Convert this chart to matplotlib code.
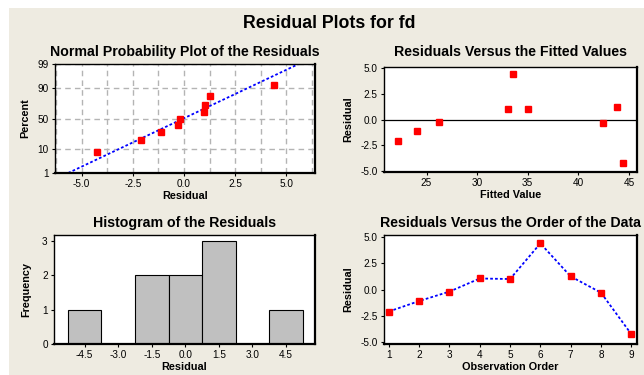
"""
Minitab-style four-in-one residual plots for fd.
"""

import matplotlib
matplotlib.use('Agg')
import matplotlib.pyplot as plt
from matplotlib.patches import Rectangle
from matplotlib.ticker import MultipleLocator, FixedLocator, FuncFormatter
import numpy as np
from statistics import NormalDist

plt.rcParams.update({
    'font.family': ['Liberation Sans', 'DejaVu Sans'],
    'font.size': 7.8,
    'xtick.labelsize': 7.2,
    'ytick.labelsize': 7.2,
    'xtick.major.size': 2.5,
    'ytick.major.size': 2.5,
    'axes.linewidth': 1.0,
})

# Data
observation = [1, 2, 3, 4, 5, 6, 7, 8, 9]
residuals = [-2.1, -1.1, -0.2, 1.05, 1.0, 4.4, 1.25, -0.3, -4.25]
fitted = [22.15, 24.1, 26.2, 33.1, 35.0, 33.5, 43.8, 42.4, 44.4]
normal_percent = [7.5, 18.4, 28.5, 39.5, 49.5, 61.0, 72.0, 83.0, 92.5]
percent_ticks = [1, 10, 50, 90, 99]
hist_bins = [-5.25, -3.75, -2.25, -0.75, 0.75, 2.25, 3.75, 5.25]
hist_ticks = [-4.5, -3.0, -1.5, 0.0, 1.5, 3.0, 4.5]

RED = '#ff0000'
BLUE = '#0000ff'
BEIGE = '#eeebe1'
GRID = '#b4b4b4'
TITLE_SIZE = 10.2

nd = NormalDist()


def to_z(p):
    p = np.clip(np.asarray(p, dtype=float), 1e-6, 100 - 1e-6)
    return np.vectorize(lambda v: nd.inv_cdf(v / 100.0), otypes=[float])(p)


def to_pct(z):
    z = np.asarray(z, dtype=float)
    return np.vectorize(lambda v: nd.cdf(v) * 100.0, otypes=[float])(z)


def style_axes(ax):
    for side in ['left', 'top']:
        ax.spines[side].set_linewidth(1.0)
    for side in ['right', 'bottom']:
        ax.spines[side].set_linewidth(1.6)
    ax.tick_params(direction='out', pad=2)
    ax.set_facecolor('white')


fig = plt.figure(figsize=(6.44, 3.75), dpi=100, facecolor='white')
fig.patches.append(Rectangle((9 / 644, 0), 1, 1 - 8 / 375, transform=fig.transFigure,
                             facecolor=BEIGE, edgecolor='none', zorder=-10))

fig.text(329 / 644, 1 - 24 / 375, 'Residual Plots for fd', ha='center', va='center',
         fontsize=12.8, fontweight='bold')

ax1 = fig.add_axes([55 / 644, 1 - 173 / 375, 260 / 644, 109 / 375])
ax2 = fig.add_axes([384 / 644, 1 - 172 / 375, 253 / 644, 105 / 375])
ax3 = fig.add_axes([54 / 644, 1 - 344 / 375, 261 / 644, 109 / 375])
ax4 = fig.add_axes([384 / 644, 1 - 344 / 375, 253 / 644, 109 / 375])

res_fmt = FuncFormatter(lambda v, pos: f'{v:.1f}')

# --- Normal probability plot
ax1.set_yscale('function', functions=(to_z, to_pct))
ax1.set_ylim(1, 99)
ax1.set_xlim(-6.3, 6.4)
ax1.yaxis.set_major_locator(FixedLocator(percent_ticks))
ax1.yaxis.set_minor_locator(FixedLocator([]))
ax1.yaxis.set_major_formatter(FuncFormatter(lambda v, pos: f'{v:g}'))
ax1.xaxis.set_major_locator(MultipleLocator(2.5))
ax1.xaxis.set_minor_locator(MultipleLocator(1.25))
ax1.xaxis.set_major_formatter(res_fmt)
ax1.tick_params(which='minor', length=0)
ax1.grid(True, which='both', axis='x', color=GRID, linestyle=(0, (4, 3)), linewidth=1)
ax1.grid(True, which='major', axis='y', color=GRID, linestyle=(0, (4, 3)), linewidth=1)
ax1.set_axisbelow(True)

mu = np.mean(residuals)
sd = np.std(residuals, ddof=1)
z_line = np.linspace(to_z(1.0), to_z(99.0), 60)
ax1.plot(mu + sd * z_line, to_pct(z_line), color=BLUE, linestyle=(0, (1.5, 1.2)), linewidth=1.3)
ax1.plot(sorted(residuals), normal_percent, 's', color=RED, markersize=3.8, linestyle='none')
ax1.set_title('Normal Probability Plot of the Residuals', fontsize=TITLE_SIZE,
              fontweight='bold', pad=6)
ax1.set_xlabel('Residual', fontweight='bold', labelpad=1)
ax1.set_ylabel('Percent', fontweight='bold', labelpad=5)
style_axes(ax1)

# --- Residuals versus fitted
ax2.axhline(0, color='black', linewidth=0.9)
ax2.plot(fitted, residuals, 's', color=RED, markersize=3.8, linestyle='none')
ax2.set_xlim(20.8, 45.8)
ax2.set_ylim(-5.1, 5.1)
ax2.xaxis.set_major_locator(MultipleLocator(5))
ax2.yaxis.set_major_locator(MultipleLocator(2.5))
ax2.yaxis.set_major_formatter(res_fmt)
ax2.set_title('Residuals Versus the Fitted Values', fontsize=TITLE_SIZE,
              fontweight='bold', pad=8)
ax2.set_xlabel('Fitted Value', fontweight='bold', labelpad=1)
ax2.set_ylabel('Residual', fontweight='bold', labelpad=5)
style_axes(ax2)

# --- Histogram
ax3.hist(residuals, bins=hist_bins, color='#c0c0c0', edgecolor='black', linewidth=0.8)
ax3.set_xlim(-5.87, 5.8)
ax3.set_ylim(0, 3.18)
ax3.xaxis.set_major_locator(FixedLocator(hist_ticks))
ax3.xaxis.set_major_formatter(res_fmt)
ax3.yaxis.set_major_locator(MultipleLocator(1))
ax3.set_title('Histogram of the Residuals', fontsize=TITLE_SIZE, fontweight='bold', pad=6)
ax3.set_xlabel('Residual', fontweight='bold', labelpad=1)
ax3.set_ylabel('Frequency', fontweight='bold', labelpad=8)
style_axes(ax3)

# --- Residuals versus order
ax4.plot(observation, residuals, color=BLUE, linestyle=(0, (1.5, 1.2)), linewidth=1.3)
ax4.plot(observation, residuals, 's', color=RED, markersize=3.8, linestyle='none')
ax4.set_xlim(0.84, 9.19)
ax4.set_ylim(-5.2, 5.2)
ax4.xaxis.set_major_locator(MultipleLocator(1))
ax4.yaxis.set_major_locator(MultipleLocator(2.5))
ax4.yaxis.set_major_formatter(res_fmt)
ax4.set_title('Residuals Versus the Order of the Data', fontsize=TITLE_SIZE,
              fontweight='bold', pad=6)
ax4.set_xlabel('Observation Order', fontweight='bold', labelpad=1)
ax4.set_ylabel('Residual', fontweight='bold', labelpad=5)
style_axes(ax4)

fig.savefig('out.png', dpi=100, facecolor=fig.get_facecolor())
plt.close(fig)
